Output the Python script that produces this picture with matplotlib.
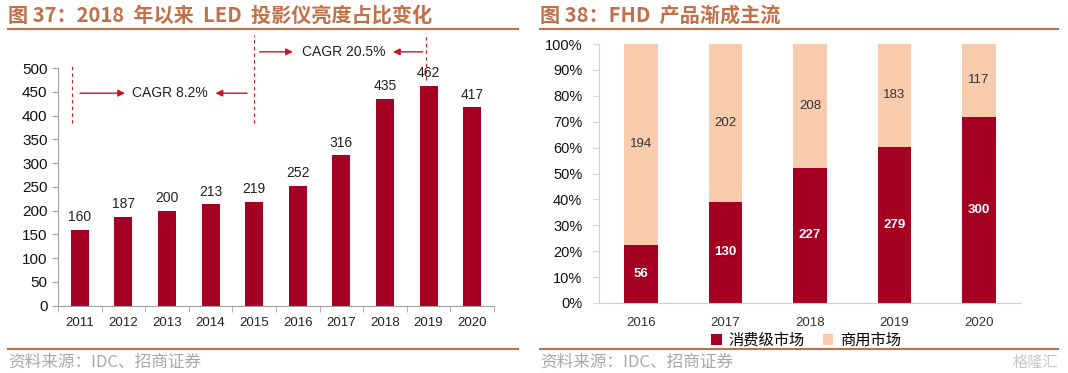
import matplotlib.pyplot as plt
import numpy as np

plt.rcParams['font.family'] = ['Liberation Sans', 'Noto Sans CJK SC', 'DejaVu Sans']

# left chart data
years_left = ['2011', '2012', '2013', '2014', '2015', '2016', '2017', '2018', '2019', '2020']
brightness = [160, 187, 200, 213, 219, 252, 316, 435, 462, 417]

# right chart data
years_right = ['2016', '2017', '2018', '2019', '2020']
consumer = [56, 130, 227, 279, 300]
commercial = [194, 202, 208, 183, 117]

RED = '#A50021'
PEACH = '#F8CBAD'
TITLE_C = '#C0714A'
ARROW_C = '#D0121B'
W, H = 1068, 373
CJK = ['Noto Sans CJK SC', 'DejaVu Sans']

fig = plt.figure(figsize=(W / 100, H / 100), dpi=100)


def box(x0, y0, x1, y1):
    return [x0 / W, 1 - y1 / H, (x1 - x0) / W, (y1 - y0) / H]


# titles, rules and sources
for x0, x1, title in [(8, 518, '图 37：2018  年以来  LED  投影仪亮度占比变化'),
                      (540, 1058, '图 38：FHD  产品渐成主流')]:
    fig.text(x0 / W, 1 - 15 / H, title, fontsize=14.5, fontweight='bold', color=TITLE_C,
             va='center', ha='left', family=CJK)
    fig.add_artist(plt.Line2D([x0 / W, x1 / W], [1 - 29 / H, 1 - 29 / H], color=TITLE_C, lw=1.5))
    fig.add_artist(plt.Line2D([x0 / W, x1 / W], [1 - 349 / H, 1 - 349 / H], color=TITLE_C, lw=1.5))
    fig.text(x0 / W, 1 - 362 / H, '资料来源：IDC、招商证券', fontsize=12, color='#A8A8A8',
             va='center', ha='left', family=CJK)
fig.text(1058 / W, 1 - 362 / H, '格隆汇', fontsize=11, color='#C8C8C8', va='center', ha='right',
         family=CJK)

# ---- left chart ----
ax = fig.add_axes(box(58, 68, 494, 305.7))
x = np.arange(len(years_left))
ax.bar(x, brightness, width=0.41, color=RED)
for xi, v in zip(x, brightness):
    ax.text(xi, v + 12, str(v), ha='center', va='bottom', fontsize=10, color='#222222')
ax.set_xlim(-0.5, 9.5)
ax.set_ylim(0, 500)
ax.set_yticks(range(0, 501, 50))
ax.set_xticks(x)
ax.set_xticklabels(years_left, fontsize=9.5, color='#222222')
ax.set_xticks(np.arange(-0.5, 10, 1), minor=True)
ax.tick_params(axis='x', which='major', length=0, pad=8)
ax.tick_params(axis='x', which='minor', length=4, color='#A0A0A0')
ax.tick_params(axis='y', labelsize=11, length=4, color='#A0A0A0', labelcolor='#111111')
for s in ['top', 'right']:
    ax.spines[s].set_visible(False)
for s in ['left', 'bottom']:
    ax.spines[s].set_color('#A0A0A0')

# CAGR annotations
dash = dict(color=ARROW_C, lw=0.8, ls=(0, (3, 3)), clip_on=False)
ax.plot([-0.18, -0.18], [385, 507], **dash)
ax.plot([4.0, 4.0], [385, 570], **dash)
ax.plot([7.95, 7.95], [475, 570], **dash)
arr = dict(arrowstyle='-|>', color=ARROW_C, lw=1, mutation_scale=10)
ax.annotate('', xy=(1.1, 447), xytext=(-0.06, 447), arrowprops=arr, annotation_clip=False)
ax.annotate('', xy=(3.05, 447), xytext=(3.9, 447), arrowprops=arr, annotation_clip=False)
ax.text(2.07, 447, 'CAGR 8.2%', ha='center', va='center', fontsize=10, color='#222222')
ax.annotate('', xy=(4.95, 534), xytext=(4.06, 534), arrowprops=arr, annotation_clip=False)
ax.annotate('', xy=(7.12, 534), xytext=(7.93, 534), arrowprops=arr, annotation_clip=False)
ax.text(6.05, 534, 'CAGR 20.5%', ha='center', va='center', fontsize=10, color='#222222',
        clip_on=False)

# ---- right chart ----
ax2 = fig.add_axes(box(599, 44, 1021, 303))
total = np.array(consumer) + np.array(commercial)
p_cons = np.array(consumer) / total * 100
p_comm = np.array(commercial) / total * 100
x2 = np.arange(len(years_right))
ax2.bar(x2, p_cons, width=0.4, color=RED, label='消费级市场')
ax2.bar(x2, p_comm, width=0.4, bottom=p_cons, color=PEACH, label='商用市场')
for xi, pc, pm, c, m in zip(x2, p_cons, p_comm, consumer, commercial):
    ax2.text(xi, pc / 2, str(c), ha='center', va='center', fontsize=9.5, color='white',
             fontweight='bold')
    ax2.text(xi, pc + pm / 2, str(m), ha='center', va='center', fontsize=9.5, color='#333333')
ax2.set_xlim(-0.5, 4.5)
ax2.set_ylim(0, 100)
ax2.set_yticks(range(0, 101, 10))
ax2.set_yticklabels([f'{v}%' for v in range(0, 101, 10)])
ax2.set_xticks(x2)
ax2.set_xticklabels(years_right)
ax2.tick_params(axis='x', length=0, pad=10, labelsize=9.5, labelcolor='#333333')
ax2.tick_params(axis='y', length=4, color='#D0D0D0', labelsize=10.5, labelcolor='#111111', pad=8)
for s in ['top', 'right']:
    ax2.spines[s].set_visible(False)
for s in ['left', 'bottom']:
    ax2.spines[s].set_color('#D0D0D0')
fig.legend(loc='center', bbox_to_anchor=(806 / W, 1 - 340 / H), ncol=2, frameon=False,
           handlelength=0.7, handleheight=0.7, handletextpad=0.4,
           columnspacing=1.2, prop={'family': CJK, 'size': 11})

fig.savefig('out.png', dpi=100)
